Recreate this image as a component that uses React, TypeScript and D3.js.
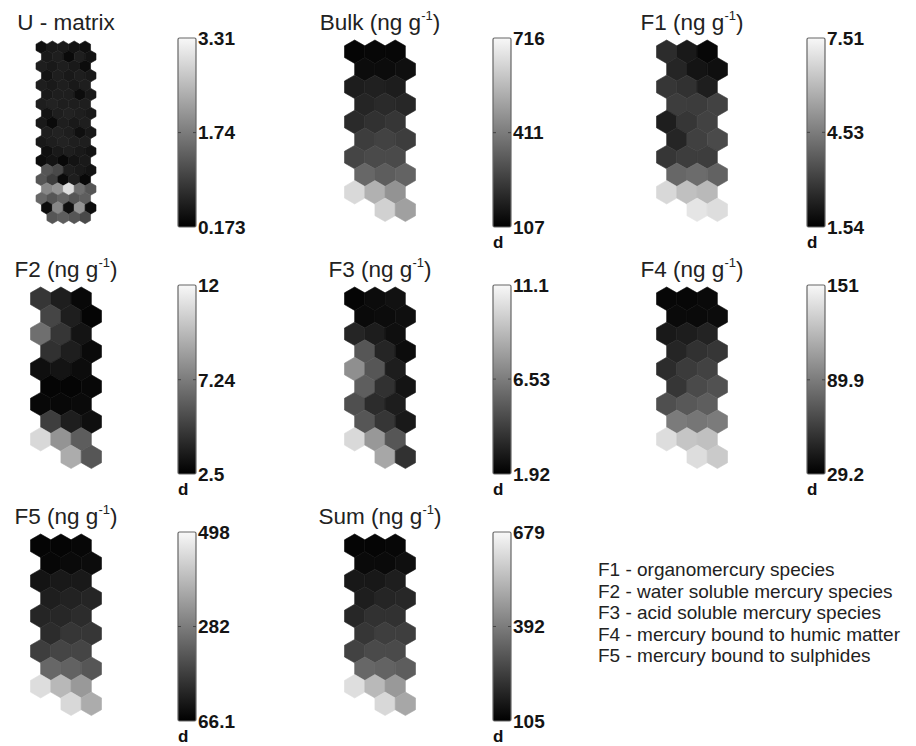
import * as d3 from "d3";

type Grid = (number | null)[][];

// U-matrix (19 x 5 hex cells)
const uMatrix: Grid = [
  [0.36, 0.49, 0.49, 0.42, 0.36],
  [0.49, 0.55, 0.3, 0.55, 0.42],
  [0.55, 0.49, 0.55, 0.49, 0.33],
  [0.42, 0.55, 0.49, 0.55, 0.49],
  [0.55, 0.49, 0.55, 0.49, 0.55],
  [0.49, 0.55, 0.55, 0.33, 0.49],
  [0.55, 0.61, 0.55, 0.55, 0.55],
  [0.42, 0.55, 0.61, 0.55, 0.49],
  [0.49, 0.3, 0.55, 0.49, 0.55],
  [0.55, 0.61, 0.55, 0.36, 0.49],
  [0.49, 0.55, 0.61, 0.55, 0.55],
  [0.36, 0.49, 0.55, 0.49, 0.42],
  [0.33, 0.42, 0.27, 0.42, 0.49],
  [1.27, 1.11, 0.55, 0.49, 0.42],
  [1.27, 0.96, 0.3, 0.55, 0.27],
  [1.9, 2.06, 3.0, 1.59, 1.27],
  [1.49, 1.27, 1.43, 1.27, 1.37],
  [0.33, 1.9, 0.36, 2.06, 0.33],
  [null, 1.27, 1.37, 1.27, 1.11],
];

// component planes (10 x 3 map units)
const bulk: Grid = [
  [119, 125, 125],
  [137, 137, 144],
  [180, 186, 180],
  [198, 211, 204],
  [211, 229, 241],
  [259, 271, 259],
  [278, 290, 290],
  [363, 338, 351],
  [643, 545, 472],
  [null, 625, 503],
];

const f1: Grid = [
  [2.61, 2.14, 1.72],
  [2.44, 2.02, 1.9],
  [2.85, 2.73, 2.26],
  [3.03, 3.0, 3.15],
  [2.26, 2.85, 3.15],
  [2.44, 3.09, 3.33],
  [2.85, 3.03, 3.03],
  [4.05, 4.17, 3.93],
  [6.79, 6.2, 6.02],
  [null, 7.09, 6.91],
];

const f2: Grid = [
  [4.59, 3.64, 2.79],
  [5.16, 3.64, 2.69],
  [6.78, 4.59, 3.26],
  [4.4, 3.64, 2.88],
  [3.07, 3.26, 2.98],
  [2.69, 2.69, 2.79],
  [2.79, 2.79, 2.88],
  [4.88, 3.64, 3.07],
  [10.86, 8.2, 6.11],
  [null, 9.15, 5.83],
];

const f3: Grid = [
  [2.1, 2.38, 2.56],
  [2.29, 2.38, 2.47],
  [3.3, 3.02, 2.47],
  [5.13, 3.3, 2.38],
  [7.24, 5.13, 3.02],
  [5.41, 3.76, 2.65],
  [4.86, 3.57, 3.02],
  [5.13, 3.94, 2.84],
  [10.0, 7.61, 5.13],
  [null, 8.16, 3.76],
];

const f4: Grid = [
  [32.9, 32.9, 34.1],
  [34.1, 34.1, 35.3],
  [41.4, 43.8, 46.3],
  [47.5, 53.6, 56.0],
  [51.1, 58.4, 62.1],
  [56.0, 65.7, 69.4],
  [68.2, 73.0, 75.5],
  [90.1, 87.7, 90.1],
  [138.8, 126.6, 124.2],
  [null, 138.8, 129.1],
];

const f5: Grid = [
  [74.7, 74.7, 79.1],
  [79.1, 83.4, 87.7],
  [100.7, 109.3, 109.3],
  [117.9, 126.6, 130.9],
  [130.9, 135.2, 143.8],
  [143.8, 161.1, 161.1],
  [174.1, 187.0, 187.0],
  [247.5, 238.9, 217.3],
  [454.8, 390.0, 333.9],
  [null, 446.2, 368.4],
];

const sum: Grid = [
  [116, 116, 122],
  [128, 128, 139],
  [162, 162, 174],
  [174, 191, 197],
  [197, 220, 220],
  [231, 249, 249],
  [260, 277, 277],
  [346, 335, 323],
  [622, 536, 461],
  [null, 610, 495],
];

// colorbar ticks (max, middle, min)
const uTicks = [3.31, 1.74, 0.173];
const bulkTicks = [716, 411, 107];
const f1Ticks = [7.51, 4.53, 1.54];
const f2Ticks = [12, 7.24, 2.5];
const f3Ticks = [11.1, 6.53, 1.92];
const f4Ticks = [151, 89.9, 29.2];
const f5Ticks = [498, 282, 66.1];
const sumTicks = [679, 392, 105];

const titles = ["U - matrix", "Bulk", "F1", "F2", "F3", "F4", "F5", "Sum"];

const legendLines = [
  "F1 - organomercury species",
  "F2 - water soluble mercury species",
  "F3 - acid soluble mercury species",
  "F4 - mercury bound to humic matter",
  "F5 - mercury bound to sulphides",
];

const panels = [
  { title: titles[0], values: uMatrix, ticks: uTicks, col: 0, row: 0, unit: false },
  { title: titles[1], values: bulk, ticks: bulkTicks, col: 1, row: 0, unit: true },
  { title: titles[2], values: f1, ticks: f1Ticks, col: 2, row: 0, unit: true },
  { title: titles[3], values: f2, ticks: f2Ticks, col: 0, row: 1, unit: true },
  { title: titles[4], values: f3, ticks: f3Ticks, col: 1, row: 1, unit: true },
  { title: titles[5], values: f4, ticks: f4Ticks, col: 2, row: 1, unit: true },
  { title: titles[6], values: f5, ticks: f5Ticks, col: 0, row: 2, unit: true },
  { title: titles[7], values: sum, ticks: sumTicks, col: 1, row: 2, unit: true },
];

const W = 916;
const H = 746;
const gridCx = [66, 380, 692];
const barX = [178, 493, 807];
const rowTop = [38, 285, 532];
const barW = 18;
const barH = 189;
const FONT = "'Liberation Sans', Arial, Helvetica, sans-serif";

const hexLine = d3.line().curve(d3.curveLinearClosed);

function hexPath(cx: number, cy: number, r: number) {
  const pts = d3.range(6).map((i) => {
    const a = (Math.PI / 180) * (60 * i - 90);
    return [cx + r * Math.cos(a), cy + r * Math.sin(a)] as [number, number];
  });
  return hexLine(pts) || "";
}

function Panel({ p, idx }: { p: (typeof panels)[number]; idx: number }) {
  const rows = p.values.length;
  const cols = p.values[0].length;
  const isU = !p.unit;
  const gridW = isU ? 60 : 71;
  const w = gridW / (cols + 0.5);
  const r = w / Math.sqrt(3);
  const rs = 1.5 * r;
  const left = gridCx[p.col] - gridW / 2;
  const top = rowTop[p.row] + (isU ? 3 : 2);

  const x = d3.scaleLinear().domain([0, cols - 0.5]).range([left + w / 2, left + w / 2 + (cols - 0.5) * w]);
  const y = d3.scaleLinear().domain([0, rows - 1]).range([top + r, top + r + (rows - 1) * rs]);

  const lo = p.ticks[p.ticks.length - 1];
  const hi = p.ticks[0];
  const color = d3.scaleLinear<string>().domain([lo, hi]).range(["#000000", "#f6f6f6"]).clamp(true);

  const bx = barX[p.col];
  const by = rowTop[p.row];
  const yBar = d3.scaleLinear().domain([lo, hi]).range([by + barH, by]);
  const gid = `cb-grad-${idx}`;

  const cells: { d: string; fill: string }[] = [];
  p.values.forEach((row, ri) =>
    row.forEach((v, ci) => {
      if (v == null) return;
      cells.push({ d: hexPath(x(ci + (ri % 2) * 0.5), y(ri), r), fill: color(v) });
    })
  );

  return (
    <g>
      <text
        x={gridCx[p.col]}
        y={rowTop[p.row] - 8}
        textAnchor="middle"
        fontFamily={FONT}
        fontSize={22.5}
        fill="#222"
      >
        {p.title}
        {p.unit && (
          <>
            {" (ng g"}
            <tspan fontSize={13} dy={-10}>
              -1
            </tspan>
            <tspan dy={10}>)</tspan>
          </>
        )}
      </text>

      {cells.map((c, i) => (
        <path key={i} d={c.d} fill={c.fill} stroke={c.fill} strokeWidth={0.6} />
      ))}

      <defs>
        <linearGradient id={gid} x1={0} y1={1} x2={0} y2={0}>
          <stop offset="0%" stopColor="#000" />
          <stop offset="100%" stopColor="#f8f8f8" />
        </linearGradient>
      </defs>
      <rect x={bx} y={by} width={barW} height={barH} fill={`url(#${gid})`} stroke="#666" strokeWidth={1.2} rx={1.5} />
      {[p.ticks[1]].map((t) => (
        <g key={t}>
          <line x1={bx} x2={bx + 3} y1={yBar(t)} y2={yBar(t)} stroke="#444" strokeWidth={1} />
          <line x1={bx + barW - 3} x2={bx + barW} y1={yBar(t)} y2={yBar(t)} stroke="#444" strokeWidth={1} />
        </g>
      ))}
      {p.ticks.map((t) => (
        <text
          key={t}
          x={bx + barW + 2}
          y={yBar(t)}
          dy="0.36em"
          fontFamily={FONT}
          fontSize={19}
          fontWeight="bold"
          fill="#151515"
        >
          {String(t)}
        </text>
      ))}
      {p.unit && (
        <text x={bx} y={by + barH + 21} fontFamily={FONT} fontSize={17} fontWeight="bold" fill="#111">
          d
        </text>
      )}
    </g>
  );
}

export default function App() {
  return (
    <svg
      width={W}
      height={H}
      viewBox={`0 0 ${W} ${H}`}
      style={{ position: "absolute", left: 0, top: 0, background: "#fff" }}
    >
      <rect width={W} height={H} fill="#fff" />
      {panels.map((p, i) => (
        <Panel key={p.title} p={p} idx={i} />
      ))}
      {legendLines.map((t, i) => (
        <text key={t} x={598} y={576 + i * 21.5} fontFamily={FONT} fontSize={19} fill="#222">
          {t}
        </text>
      ))}
    </svg>
  );
}
